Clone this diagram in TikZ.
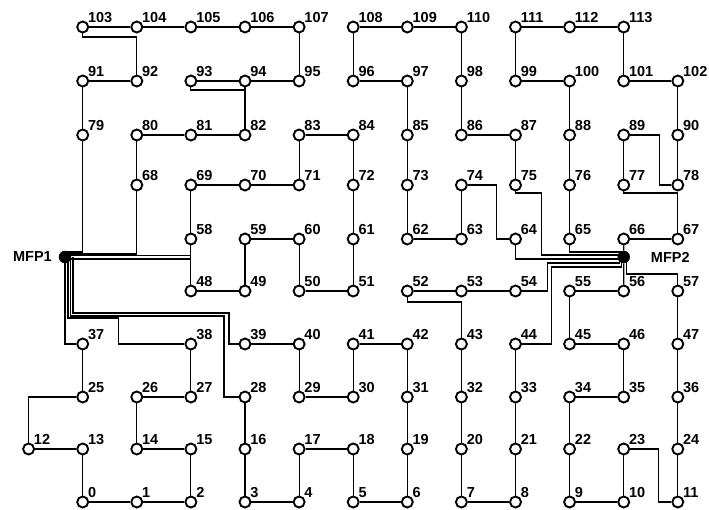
\documentclass[tikz,border=0pt]{standalone}
\usepackage{fontspec}
\setmainfont{Liberation Sans}
\usetikzlibrary{positioning,calc}

\tikzset{
  pt/.style={circle,draw,line width=1.9pt,fill=white,minimum size=11pt,inner sep=0pt},
  hub/.style={circle,fill=black,minimum size=12.5pt,inner sep=0pt},
  num/.style={font=\bfseries\fontsize{14.5}{14.5}\selectfont,inner xsep=0.6pt,inner ysep=0pt},
  wire/.style={line width=1.1pt}
}

\begin{document}
\begin{tikzpicture}[x=1pt,y=-1pt]
  \useasboundingbox (0,0) rectangle (709,509);
  % nodes, numbered row by row from the bottom
  \foreach \y/\first/\cols in {502/0/{0,...,11}, 449/12/{-1,...,11}, 397/25/{0,...,11},
      344/37/{0,2,3,4,5,6,7,8,9,10,11}, 291/48/{2,...,11}, 239/58/{2,...,11},
      185/68/{1,...,11}, 135/79/{0,...,11}, 81/91/{0,...,11}, 27/103/{0,...,10}}
    \foreach \c [count=\i from 0] in \cols {
      \pgfmathtruncatemacro\k{\first+\i}
      \node[pt,label={[num]north east:\k}] (n\k) at ({82.7+54.1*\c},\y) {};
    }
  \node[hub,label={[num,label distance=6pt]left:MFP1}] (mfp1) at (65,257) {};
  \node[hub,label={[num,label distance=20pt]right:MFP2}] (mfp2) at (623.7,257) {};

  % straight links
  \foreach \a/\b in {0/1,1/2,3/4,5/6,7/8,9/10,12/13,14/15,17/18,26/27,29/30,34/35,
      39/40,41/42,45/46,48/49,50/51,52/53,53/54,55/56,59/60,62/63,66/67,69/70,70/71,
      80/81,81/82,83/84,86/87,91/92,93/94,94/95,96/97,99/100,101/102,103/104,104/105,
      105/106,106/107,108/109,109/110,111/112,112/113,
      0/13,2/15,3/16,16/28,4/17,5/18,6/19,19/31,31/42,7/20,20/32,32/43,8/21,21/33,
      33/44,9/22,22/34,10/23,11/24,24/36,36/47,47/57,14/26,25/37,27/38,29/40,30/41,
      35/46,45/55,48/58,58/69,49/59,50/60,51/61,61/72,72/84,62/73,73/85,85/97,63/74,
      65/76,76/88,88/100,71/83,77/89,78/90,90/102,79/91,68/80,82/94,86/98,98/110,
      75/87,96/108,99/111,101/113,95/107}
    \draw[wire] (n\a) -- (n\b);

  % bent links
  \draw[wire] (n12) |- (n25);
  \draw[wire] (n23) -| ++(35,53) -- (n11);
  \draw[wire] (n52) -- ++(0,11) -| (n43);
  \draw[wire] (n74) -- ++(35,0) |- (n64);
  \draw[wire] (n89) -- ++(36,0) |- (n78);
  \draw[wire] (n77) -- ++(0,8) -| (n67);
  \draw[wire] (n103) -- ++(0,10) -| (n92);
  \draw[wire] (n93) -- ++(0,9) -| (n82);

  % MFP1 feeders
  \draw[wire] (n79) |- ([yshift=5pt]mfp1.center);
  \draw[wire] (n68) |- ([yshift=3pt]mfp1.center);
  \draw[wire] (n58) |- ([yshift=1.5pt]mfp1.center);
  \draw[wire] (n48) |- ([yshift=-2pt]mfp1.center);
  \draw[wire] (n37) -| (mfp1);
  \draw[wire] (n38) -- ++(-72,0) -- ++(0,-26) -| ([xshift=3pt]mfp1.center);
  \draw[wire] (n28) -- ++(-21,0) -- ++(0,-81) -| ([xshift=5.5pt]mfp1.center);
  \draw[wire] (n39) -- ++(-16,0) -- ++(0,-31) -| ([xshift=8pt]mfp1.center);

  % MFP2 feeders
  \draw[wire] (n66) -- (mfp2);
  \draw[wire] (mfp2) -- (n56);
  \draw[wire] (n65) |- ([yshift=5pt]mfp2.center);
  \draw[wire] (n75) -- ++(0,8) -- ++(26,0) |- ([yshift=2pt]mfp2.center);
  \draw[wire] (n64) |- ([yshift=-2pt]mfp2.center);
  \draw[wire] (n54) -- ++(32,0) -- ++(0,-28) -| ([xshift=-4pt]mfp2.center);
  \draw[wire] (n44) -- ++(36,0) -- ++(0,-77) -| ([xshift=-2pt]mfp2.center);
  \draw[wire] ([xshift=3pt]mfp2.center) -- ++(0,17) -| (n57);
\end{tikzpicture}
\end{document}
